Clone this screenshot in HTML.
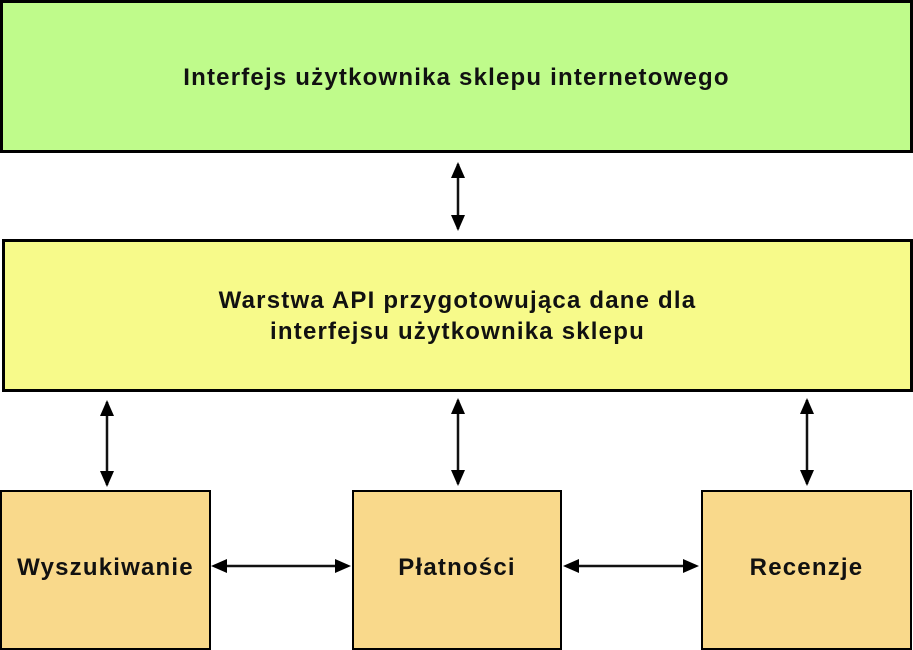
<!DOCTYPE html>
<html><head><meta charset="utf-8"><style>
body{margin:0;width:913px;height:643px;overflow:hidden;background:#fff;font-family:"Liberation Sans",sans-serif;}
.b{position:absolute;box-sizing:border-box;border:2px solid #000;display:flex;align-items:center;justify-content:center;text-align:center;font-weight:bold;font-size:24px;letter-spacing:1.2px;line-height:31px;color:#111;}
svg{position:absolute;left:0;top:0}
</style></head><body>
<div class="b" style="left:0;top:0;width:913px;height:153px;background:#bffb8b;border-width:3px;padding-top:2px">Interfejs użytkownika sklepu internetowego</div>
<div class="b" style="left:2px;top:239px;width:911px;height:153px;background:#f7fa8a;border-width:3px;padding-top:1px">Warstwa API przygotowująca dane dla<br>interfejsu użytkownika sklepu</div>
<div class="b" style="left:0;top:490px;width:211px;height:160px;background:#f9d98b;padding-bottom:6px">Wyszukiwanie</div>
<div class="b" style="left:352px;top:490px;width:210px;height:160px;background:#f9d98b;padding-bottom:6px">Płatności</div>
<div class="b" style="left:701px;top:490px;width:211px;height:160px;background:#f9d98b;padding-bottom:6px">Recenzje</div>
<svg width="913" height="643">
<g stroke="#111" stroke-width="2.5">
<line x1="458" y1="164" x2="458" y2="229"/>
<line x1="107" y1="402" x2="107" y2="485"/>
<line x1="458" y1="400" x2="458" y2="484"/>
<line x1="807" y1="400" x2="807" y2="484"/>
<line x1="214" y1="566" x2="348" y2="566"/>
<line x1="566" y1="566" x2="696" y2="566"/>
</g>
<g fill="#000">
<path d="M458,162l-7,16h14z M458,231l-7,-16h14z"/>
<path d="M107,400l-7,16h14z M107,487l-7,-16h14z"/>
<path d="M458,398l-7,16h14z M458,486l-7,-16h14z"/>
<path d="M807,398l-7,16h14z M807,486l-7,-16h14z"/>
<path d="M211,566l16,-7v14z M351,566l-16,-7v14z"/>
<path d="M563,566l16,-7v14z M699,566l-16,-7v14z"/>
</g>
</svg>
</body></html>
